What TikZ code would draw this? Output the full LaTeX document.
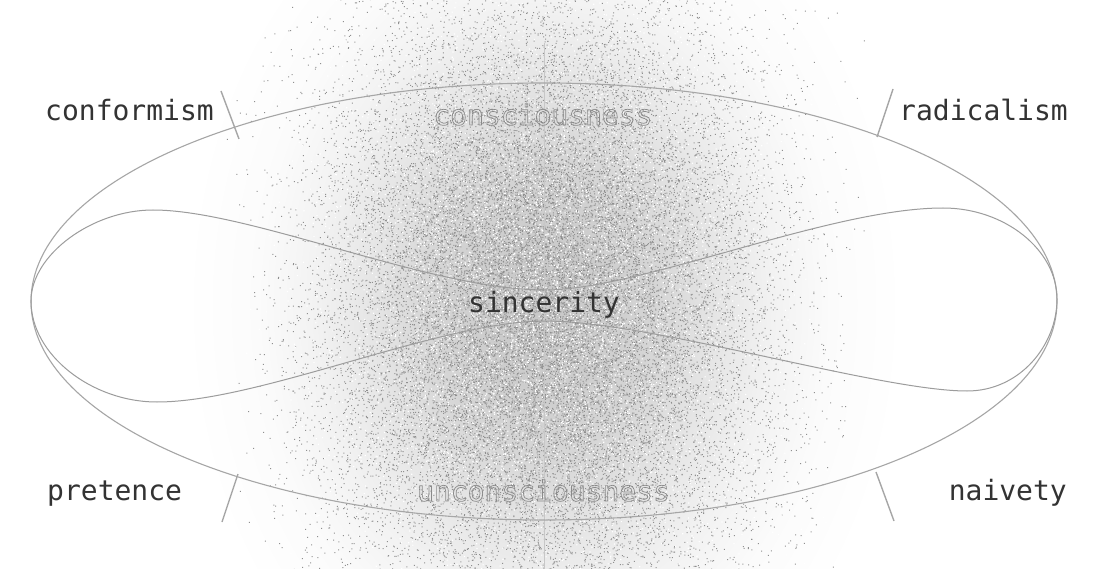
\documentclass[tikz,border=0pt]{standalone}
\usepackage{fontspec}
\setmonofont{DejaVu Sans Mono}
\definecolor{labelc}{HTML}{333333}
\definecolor{linec}{HTML}{A6A6A6}
\definecolor{lobec}{HTML}{9C9C9C}
\definecolor{outc}{HTML}{8A8A8A}
\pgfdeclareradialshading{cloud}{\pgfpoint{0bp}{0bp}}{color(0bp)=(black!22); color(4bp)=(black!20); color(8bp)=(black!16); color(12bp)=(black!10); color(16bp)=(black!5); color(20bp)=(black!1.5); color(25bp)=(white); color(50bp)=(white)}
\tikzset{
  lab/.style={font=\ttfamily\fontsize{28}{30}\selectfont, text=labelc, inner sep=0pt},
  outl/.style={font=\ttfamily\fontsize{28}{30}\selectfont, text=outc, inner sep=0pt},
  tick/.style={draw=linec, line width=1.4pt},
  rim/.style={draw=linec, line width=1.1pt},
  lobe/.style={draw=lobec, line width=1pt},
  axis/.style={draw=black!22, line width=0.9pt}
}
\newcommand{\outlinetext}[1]{\special{pdf:literal direct 1 Tr 0.7 w 0.54 0.54 0.54 RG}#1\special{pdf:literal direct 0 Tr}}
\newcount\mydotc
% #1 count, #2 sigma-x factor, #3 sigma-y factor, #4 dot size
\newcommand{\mydotbatch}[4]{%
  \mydotc=0
  \loop
    \pgfmathparse{544+#2*(rand+rand+rand)}\let\myxx\pgfmathresult
    \pgfmathparse{-305-#3*(rand+rand+rand)}\let\myyy\pgfmathresult
    \pgfpathrectangle{\pgfpoint{\myxx pt}{\myyy pt}}{\pgfpoint{#4pt}{#4pt}}%
    \advance\mydotc by 1
  \ifnum\mydotc<#1 \repeat
}
\begin{document}
\begin{tikzpicture}[x=1pt,y=-1pt]
\useasboundingbox (0,0) rectangle (1094,569);
\fill[white] (0,0) rectangle (1094,569);
% noisy cloud
\begin{scope}
\clip (0,0) rectangle (1094,569);
\shade[shading=cloud] (544,305) ellipse [x radius=360, y radius=470];
\pgfmathsetseed{7}
\foreach \j in {1,...,110}{
  \begin{pgfscope}
  \pgfsetfillcolor{black!44}
  \mydotbatch{250}{110}{150}{1}
  \pgfusepath{fill}
  \end{pgfscope}
}
\foreach \j in {1,...,24}{
  \begin{pgfscope}
  \pgfsetfillcolor{white}
  \mydotbatch{250}{105}{140}{1.2}
  \pgfusepath{fill}
  \end{pgfscope}
}
\end{scope}
% axis
\coordinate (axtop) at (544,43);
\coordinate (axbot) at (544,569);
\draw[axis] (axtop) -- (axbot);
% big ellipse
\coordinate (rimc) at (544,301.5);
\draw[rim] (rimc) ellipse [x radius=513, y radius=218.5];
% lobes (peanut curve)
\coordinate (ltip) at (31,301);
\coordinate (ltop) at (153,210);
\coordinate (wtop) at (545,290);
\coordinate (rtop) at (943,208);
\coordinate (rtip) at (1057,299);
\coordinate (rbot) at (967,391);
\coordinate (wbot) at (545,321);
\coordinate (lbot) at (157,402);
\draw[lobe] (ltip) .. controls (31,255) and (92,210) .. (ltop)
  .. controls (250,210) and (430,290) .. (wtop)
  .. controls (640,290) and (830,208) .. (rtop)
  .. controls (1005,208) and (1057,250) .. (rtip)
  .. controls (1057,345) and (1020,391) .. (rbot)
  .. controls (880,391) and (650,321) .. (wbot)
  .. controls (440,321) and (260,402) .. (lbot)
  .. controls (92,402) and (31,355) .. (ltip) -- cycle;
% ticks
\coordinate (t1a) at (221,91);  \coordinate (t1b) at (239,139);
\coordinate (t2a) at (893,89);  \coordinate (t2b) at (877,137);
\coordinate (t3a) at (238,474); \coordinate (t3b) at (222,522);
\coordinate (t4a) at (876,472); \coordinate (t4b) at (894,521);
\draw[tick] (t1a) -- (t1b);
\draw[tick] (t2a) -- (t2b);
\draw[tick] (t3a) -- (t3b);
\draw[tick] (t4a) -- (t4b);
% labels
\node[lab, anchor=base west] (conf) at (45,121) {conformism};
\node[lab, anchor=base east] (rad) at (1068,121) {radicalism};
\node[lab, anchor=base west] (pret) at (47,500) {pretence};
\node[lab, anchor=base east] (naiv) at (1067,500) {naivety};
\node[lab, anchor=base] (sinc) at (544,312) {sincerity};
\node[outl, anchor=base] (cons) at (543,125) {\outlinetext{consciousness}};
\node[outl, anchor=base] (uncons) at (543.5,501) {\outlinetext{unconsciousness}};
\end{tikzpicture}
\end{document}
